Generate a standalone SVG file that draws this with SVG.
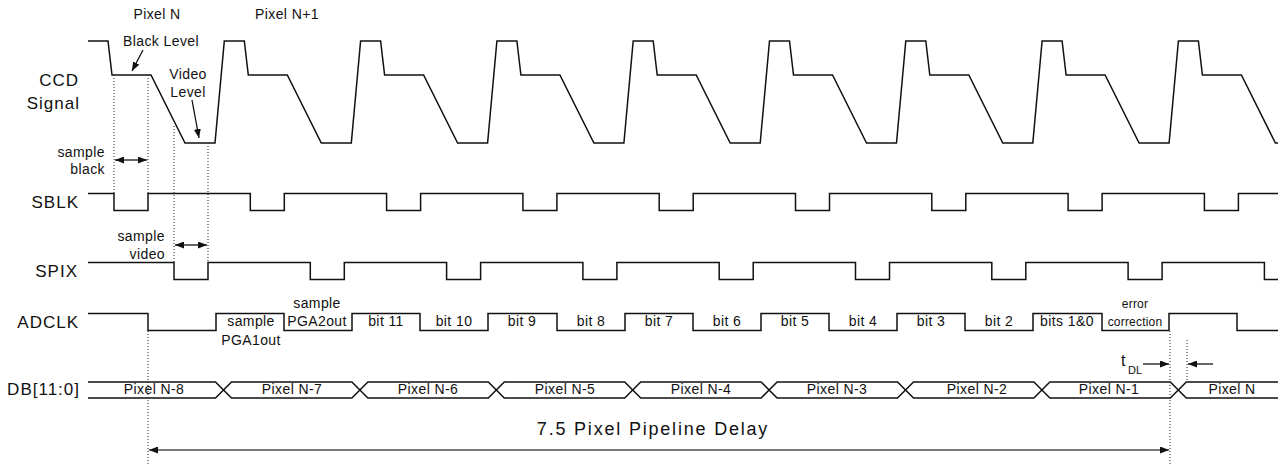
<svg xmlns="http://www.w3.org/2000/svg" width="1278" height="464" viewBox="0 0 1278 464">
<style>
text{font-family:"Liberation Sans",Arial,sans-serif;fill:#111}
.big{font-size:17px;letter-spacing:1px;text-anchor:end}
.sm{font-size:14px;letter-spacing:0.4px;text-anchor:middle}
.smr{font-size:14px;letter-spacing:0.4px;text-anchor:end}
.xs{font-size:12px;letter-spacing:0.2px;text-anchor:middle}
.wave{fill:none;stroke:#111;stroke-width:1.5}
.dot{fill:none;stroke:#222;stroke-width:1;stroke-dasharray:1 2}
.arr{fill:none;stroke:#111;stroke-width:1.3}
</style>
<defs>
<marker id="ah" viewBox="0 0 10 10" refX="10" refY="5" markerUnits="userSpaceOnUse" markerWidth="9" markerHeight="7" orient="auto-start-reverse" preserveAspectRatio="none"><path d="M0,0 L10,5 L0,10 z" fill="#111"/></marker>
</defs>
<g id="labels">
<text class="big" x="79" y="86">CCD</text>
<text class="big" x="80" y="109">Signal</text>
<text class="big" x="79" y="208">SBLK</text>
<text class="big" x="78" y="277">SPIX</text>
<text class="big" x="79" y="328">ADCLK</text>
<text class="big" x="80" y="395">DB[11:0]</text>
</g>
<g id="ccd">
<path class="wave" d="M88,41 L108,41 L112,75 L151,75 L185,143 L215,143 L224.3,41 L244.3,41 L248.3,75 L287.3,75 L321.3,143 L351.3,143 L360.6,41 L380.6,41 L384.6,75 L423.6,75 L457.6,143 L487.6,143 L496.9,41 L516.9,41 L520.9,75 L559.9,75 L593.9,143 L623.9,143 L633.2,41 L653.2,41 L657.2,75 L696.2,75 L730.2,143 L760.2,143 L769.5,41 L789.5,41 L793.5,75 L832.5,75 L866.5,143 L896.5,143 L905.8,41 L925.8,41 L929.8,75 L968.8,75 L1002.8,143 L1032.8,143 L1042.1,41 L1062.1,41 L1066.1,75 L1105.1,75 L1139.1,143 L1169.1,143 L1178.4,41 L1198.4,41 L1202.4,75 L1241.4,75 L1275.4,143 L1278,143"/>
<text class="sm" x="157" y="19">Pixel N</text>
<text class="sm" x="287" y="19">Pixel N+1</text>
<text class="sm" x="161" y="46">Black Level</text>
<text class="sm" x="188" y="79">Video</text>
<text class="sm" x="188" y="97">Level</text>
</g>
<g id="sblk">
<path class="wave" d="M88,193.5 H114 V210.5 H148 V193.5 H250.3 V210.5 H284.3 V193.5 H386.6 V210.5 H420.6 V193.5 H522.9 V210.5 H556.9 V193.5 H659.2 V210.5 H693.2 V193.5 H795.5 V210.5 H829.5 V193.5 H931.8 V210.5 H965.8 V193.5 H1068.1 V210.5 H1102.1 V193.5 H1204.4 V210.5 H1238.4 V193.5 H1278"/>
<text class="smr" x="105" y="157">sample</text>
<text class="smr" x="105" y="174">black</text>
</g>
<g id="spix">
<path class="wave" d="M88,262.5 H174 V279.5 H208 V262.5 H310.3 V279.5 H344.3 V262.5 H446.6 V279.5 H480.6 V262.5 H582.9 V279.5 H616.9 V262.5 H719.2 V279.5 H753.2 V262.5 H855.5 V279.5 H889.5 V262.5 H991.8 V279.5 H1025.8 V262.5 H1128.1 V279.5 H1162.1 V262.5 H1264.4 V279.5 H1278"/>
<text class="smr" x="165" y="241">sample</text>
<text class="smr" x="165" y="259">video</text>
</g>
<g id="adclk">
<path class="wave" d="M88,313.5 H148 V330.5 H216 V313.5 H284 V330.5 H352 V313.5 H420 V330.5 H488 V313.5 H557 V330.5 H625 V313.5 H693 V330.5 H761 V313.5 H829 V330.5 H897 V313.5 H965 V330.5 H1033 V313.5 H1102 V330.5 H1169 V313.5 H1237 V330.5 H1278"/>
<text class="sm" x="251" y="326">sample</text>
<text class="sm" x="251" y="345">PGA1out</text>
<text class="sm" x="317" y="308">sample</text>
<text class="sm" x="317" y="326">PGA2out</text>
<text class="sm" x="386" y="326">bit 11</text>
<text class="sm" x="454" y="326">bit 10</text>
<text class="sm" x="522" y="326">bit 9</text>
<text class="sm" x="591" y="326">bit 8</text>
<text class="sm" x="659" y="326">bit 7</text>
<text class="sm" x="727" y="326">bit 6</text>
<text class="sm" x="795" y="326">bit 5</text>
<text class="sm" x="863" y="326">bit 4</text>
<text class="sm" x="931" y="326">bit 3</text>
<text class="sm" x="999" y="326">bit 2</text>
<text class="sm" x="1067" y="326">bits 1&amp;0</text>
<text class="xs" x="1135" y="308">error</text>
<text class="xs" x="1135" y="326">correction</text>
</g>
<g id="db">
<path class="wave" d="M88,382 H215.5 L231.5,398 H351.9 L367.9,382 H488.3 L504.3,398 H624.7 L640.7,382 H761.1 L777.1,398 H897.5 L913.5,382 H1033.9 L1049.9,398 H1170.3 L1186.3,382 H1278"/>
<path class="wave" d="M88,398 H215.5 L231.5,382 H351.9 L367.9,398 H488.3 L504.3,382 H624.7 L640.7,398 H761.1 L777.1,382 H897.5 L913.5,398 H1033.9 L1049.9,382 H1170.3 L1186.3,398 H1278"/>
<text class="sm" x="154" y="394">Pixel N-8</text>
<text class="sm" x="292" y="394">Pixel N-7</text>
<text class="sm" x="428" y="394">Pixel N-6</text>
<text class="sm" x="565" y="394">Pixel N-5</text>
<text class="sm" x="701" y="394">Pixel N-4</text>
<text class="sm" x="837" y="394">Pixel N-3</text>
<text class="sm" x="977" y="394">Pixel N-2</text>
<text class="sm" x="1109" y="394">Pixel N-1</text>
<text class="sm" x="1232" y="394">Pixel N</text>
</g>
<g id="connectors">
<line class="dot" x1="114" y1="75" x2="114" y2="193"/>
<line class="dot" x1="148" y1="75" x2="148" y2="193"/>
<line class="dot" x1="174" y1="126" x2="174" y2="262"/>
<line class="dot" x1="208" y1="143" x2="208" y2="262"/>
<line class="dot" x1="148" y1="331" x2="148" y2="464"/>
<line class="dot" x1="1170" y1="331" x2="1170" y2="464"/>
<line class="dot" x1="1187" y1="340" x2="1187" y2="381"/>
<line class="arr" x1="115" y1="160" x2="147" y2="160" marker-start="url(#ah)" marker-end="url(#ah)"/>
<line class="arr" x1="175" y1="245" x2="207" y2="245" marker-start="url(#ah)" marker-end="url(#ah)"/>
<line class="arr" x1="143" y1="50" x2="132" y2="71" marker-end="url(#ah)"/>
<line class="arr" x1="192" y1="100" x2="199" y2="138" marker-end="url(#ah)"/>
<line class="arr" x1="1143" y1="364" x2="1169" y2="364" marker-end="url(#ah)"/>
<line class="arr" x1="1213" y1="364" x2="1188" y2="364" marker-end="url(#ah)"/>
<line x1="149" y1="450" x2="1169" y2="450" stroke="#7a7a7a" stroke-width="1.8" marker-start="url(#ah)" marker-end="url(#ah)"/>
</g>
<g id="annotations">
<text x="1121" y="366" style="font-size:16px">t</text>
<text x="1128" y="374" style="font-size:11px">DL</text>
<text x="653" y="435" style="font-size:18px;letter-spacing:1.8px;text-anchor:middle">7.5 Pixel Pipeline Delay</text>
</g>
</svg>
